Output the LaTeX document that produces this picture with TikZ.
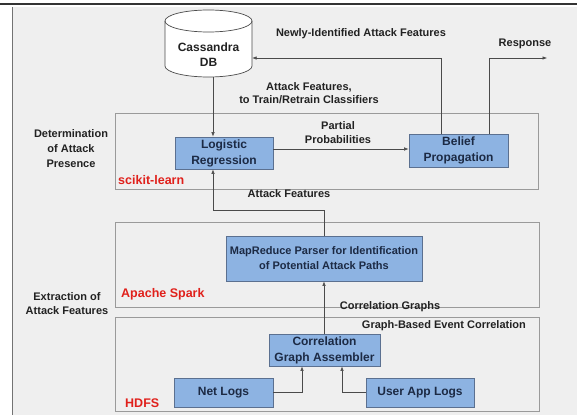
\documentclass[tikz,border=0pt]{standalone}
\usepackage{fontspec}
\setmainfont{Liberation Sans}
\usetikzlibrary{arrows.meta}
\definecolor{bg}{HTML}{EFEFEF}
\definecolor{boxfill}{HTML}{8DB3E2}
\definecolor{boxline}{HTML}{5B7090}
\definecolor{cont}{HTML}{9A9A9A}
\definecolor{txt}{HTML}{222222}
\definecolor{boxtxt}{HTML}{1C2A44}
\definecolor{redlab}{HTML}{E0201B}
\definecolor{conn}{HTML}{4A4A4A}
\tikzset{
  procbox/.style={draw=boxline, line width=0.8pt, fill=boxfill, text=boxtxt, align=center,
    font=\fontsize{12}{16}\selectfont\bfseries, inner sep=0pt},
  container/.style={draw=cont, line width=0.8pt},
  lab/.style={text=txt, align=center, font=\fontsize{11}{14}\selectfont\bfseries, inner sep=0pt},
  redl/.style={text=redlab, font=\fontsize{12.5}{15}\selectfont\bfseries, inner sep=0pt, anchor=west},
  arr/.style={draw=conn, line width=0.6pt, -{Latex[length=4.5pt,width=3.5pt]}},
}
\begin{document}
\begin{tikzpicture}[x=1pt,y=-1pt]
\useasboundingbox (0,0) rectangle (577,415);
% page background and frame
\fill[white] (0,0) rectangle (577,415);
\fill[bg] (12,7) rectangle (577,415);
\draw[line width=2pt, draw=black!80] (0,4) -- (577,4);
\draw[line width=1pt, draw=black!55] (12,7) -- (12,415);

% containers
\draw[container] (115,113) rectangle (538,189);
\draw[container] (115,222) rectangle (539,307);
\draw[container] (115,317) rectangle (539,411);

% Cassandra cylinder
\draw[draw=black!70, line width=0.7pt, fill=white]
  (165,21) -- (165,66) arc[start angle=180,end angle=360,x radius=43.5pt,y radius=11pt]
  -- (252,21) arc[start angle=0,end angle=180,x radius=43.5pt,y radius=11pt] -- cycle;
\draw[draw=black!70, line width=0.7pt]
  (165,21) arc[start angle=180,end angle=360,x radius=43.5pt,y radius=11pt];
\node (db) [minimum width=87pt, minimum height=67pt, inner sep=0pt] at (208.5,43.5) {};
\node (dbtext) [align=center, text=txt, font=\fontsize{12}{15}\selectfont\bfseries, inner sep=0pt]
  at (208.5,54.5) {Cassandra\\DB};

% process boxes
\node (lr)  [procbox, minimum width=98pt,  minimum height=32pt] at (224,153)   {Logistic\\Regression};
\node (bp)  [procbox, minimum width=99pt,  minimum height=33pt] at (458.5,150.5) {Belief\\Propagation};
\node (mr)  [procbox, minimum width=196pt, minimum height=45pt,
             font=\fontsize{11}{15}\selectfont\bfseries] at (324,258.5) {MapReduce Parser for Identification\\of Potential Attack Paths};
\node (cga) [procbox, minimum width=111pt, minimum height=32pt] at (324.5,350) {Correlation\\Graph Assembler};
\node (net) [procbox, minimum width=99pt,  minimum height=29pt] at (223.5,392.5) {Net Logs};
\node (ual) [procbox, minimum width=108pt, minimum height=29pt] at (420,392.5) {User App Logs};

% labels
\node (l1) [lab] at (361,34) {Newly-Identified Attack Features};
\node (l2) [lab] at (525,44) {Response};
\node (l3) [lab, font=\fontsize{11}{13}\selectfont\bfseries] at (309,93.5) {Attack Features,\\to Train/Retrain Classifiers};
\node (l4) [lab, font=\fontsize{11}{15}\selectfont\bfseries] at (71,149) {Determination\\of Attack\\Presence};
\node (l5) [lab] at (338,133) {Partial\\Probabilities};
\node (l6) [redl] at (118,180) {scikit-learn};
\node (l7) [lab] at (289,194) {Attack Features};
\node (l8) [redl] at (121,294) {Apache Spark};
\node (l9) [lab] at (67,304) {Extraction of\\Attack Features};
\node (l10) [lab] at (390,307) {Correlation Graphs};
\node (l11) [lab, anchor=east] at (526,326) {Graph-Based Event Correlation};
\node (l12) [redl] at (125,403) {HDFS};

% connectors
\coordinate (resp) at (547,58);
\draw[arr] ([xshift=4.5pt]db.south) -- ([xshift=-11pt]lr.north);
\draw[arr] ([yshift=4pt]lr.east) -- ([yshift=4pt]lr.east -| bp.west);
\draw[arr] ([xshift=-17.5pt]bp.north) |- ([yshift=-14.5pt]db.east);
\draw[arr] ([xshift=30.5pt]bp.north) |- (resp);
\draw[arr] (mr.north) -- ++(0,-25) -| ([xshift=-11pt]lr.south);
\draw[arr] (mr.south |- cga.north) -- (mr.south);
\draw[arr] (net.east) -| ([xshift=-22.5pt]cga.south);
\draw[arr] (ual.west) -| ([xshift=17.5pt]cga.south);
\end{tikzpicture}
\end{document}
